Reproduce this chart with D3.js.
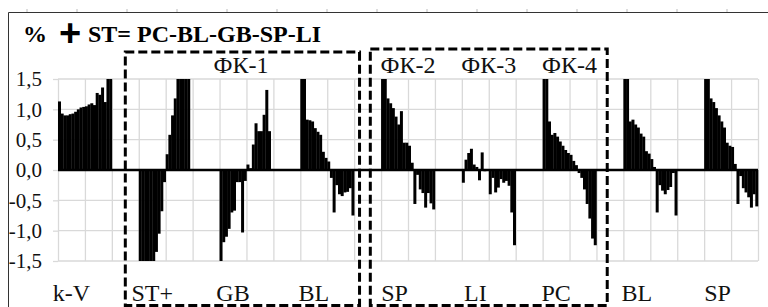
<!DOCTYPE html>
<html>
<head>
<meta charset="utf-8">
<script src="https://cdn.jsdelivr.net/npm/d3@7"></script>
<style>
  body { margin: 0; background: #fff; }
</style>
</head>
<body>
<div id="chart"></div>
<script>
// group labels under the x axis and the bars of each group
var groupLabels = ["k-V", "ST+", "GB", "BL", "SP", "LI", "PC", "BL", "SP"];

var kV = [1.13, 0.93, 0.90, 0.90, 0.92, 0.93, 0.96, 1.00, 1.03, 1.04, 1.05, 1.08, 1.10, 1.07, 1.27, 1.24, 1.36, 1.12, 1.6, 1.6];
var stPlus = [-1.6, -1.6, -1.6, -1.6, -1.6, -1.6, -1.35, -1.05, -0.68, -0.2, 0.26, 0.58, 0.9, 1.18, 1.6, 1.6, 1.6, 1.6, 1.6];
var gb = [-1.5, -1.19, -1.1, -0.97, -0.7, -0.67, -0.2, -0.2, -1.03, -0.18, 0.09, 0.03, 0.42, 0.77, 0.64, 0.64, 0.91, 1.32, 0.64];
var bl = [1.6, 1.6, 0.83, 0.82, 0.80, 0.69, 0.63, 0.58, 0.30, 0.20, 0.14, -0.13, -0.70, -0.25, -0.40, -0.43, -0.37, -0.36, -0.30, -0.75];
var sp = [1.6, 1.6, 1.18, 1.10, 1.02, 0.88, 0.75, 0.97, 0.45, 0.45, 0.40, 0.12, -0.56, -0.08, -0.32, -0.38, -0.62, -0.38, -0.55, -0.65];
var li = [-0.21, 0.17, 0.28, 0.35, 0.09, 0.05, -0.17, 0.29, -0.02, 0, -0.40, -0.13, -0.37, -0.29, -0.15, -0.21, -0.18, -0.26, -0.70, -1.24];
var pc = [1.6, 1.6, 0.80, 0.58, 0.61, 0.55, 0.47, 0.40, 0.33, 0.28, 0.25, 0.15, 0.08, -0.05, -0.13, -0.32, -0.56, -0.80, -1.13, -1.24];
var bl2 = [1.6, 1.6, 0.80, 0.83, 0.75, 0.70, 0.60, 0.55, 0.31, 0.27, 0.18, 0.05, -0.70, -0.25, -0.34, -0.40, -0.33, -0.28, -0.05, -0.75];
var sp2 = [1.6, 1.6, 1.18, 1.12, 1.02, 0.90, 0.80, 0.70, 0.45, 0.40, 0.38, 0.10, -0.56, -0.10, -0.30, -0.37, -0.45, -0.62, -0.40, -0.60];

var groups = [kV, stPlus, gb, bl, sp, li, pc, bl2, sp2];
var yTicks = [-1.5, -1.0, -0.5, 0, 0.5, 1.0, 1.5];

// annotation boxes: [first slot, last slot] and their labels
var boxSlots = [[25, 112], [116, 204]];
var fkLabels = ["ФК-1", "ФК-2", "ФК-3", "ФК-4"];
var fkSlots = [68, 130, 160, 190];

var serif = "'Liberation Serif'";

var svgWidth = 768;
var svgHeight = 307;
var slotsPerGroup = 30;
var totalSlots = 260;

var svg = d3.select("#chart")
  .append("svg")
  .attr("width", svgWidth)
  .attr("height", svgHeight);

var margin = { top: 79, right: 10, bottom: 46, left: 58 };
var width = svgWidth - margin.left - margin.right;
var height = svgHeight - margin.top - margin.bottom;

var xBand = d3.scaleBand()
  .domain(d3.range(totalSlots))
  .range([margin.left, margin.left + width])
  .padding(0);

var xLin = d3.scaleLinear()
  .domain([0, totalSlots])
  .range([margin.left, margin.left + width]);

var yScale = d3.scaleLinear()
  .domain([-1.5, 1.5])
  .range([margin.top + height, margin.top])
  .clamp(true);

// outer frame (runs off the right / bottom edge)
svg.append("path")
  .attr("d", `M8.5,${svgHeight + 5} V12.5 H${svgWidth + 5}`)
  .attr("fill", "none")
  .attr("stroke", "#333")
  .attr("stroke-width", 1);

// faint ruler marks on the frame
svg.selectAll(".ruler")
  .data(d3.range(27, svgWidth, 50))
  .enter()
  .append("line")
  .attr("x1", d => d).attr("x2", d => d)
  .attr("y1", 9).attr("y2", 12)
  .attr("stroke", "#bbb");

// vertical grid
svg.append("g")
  .attr("transform", `translate(0, ${margin.top + height})`)
  .call(d3.axisBottom(xLin).tickValues(d3.range(0, totalSlots + 1, 10)).tickSize(-height).tickFormat(""))
  .call(g => g.select(".domain").remove())
  .call(g => g.selectAll("line").attr("stroke", "#d9d9d9").attr("stroke-width", 1.3));

// horizontal grid + y labels
var fmt = d3.formatLocale({ decimal: ",", thousands: " ", grouping: [3], currency: ["", ""], minus: "-" }).format(".1f");

var yAxis = svg.append("g")
  .attr("transform", `translate(${margin.left}, 0)`)
  .call(d3.axisLeft(yScale).tickValues(yTicks).tickSize(5).tickPadding(11).tickFormat(fmt));
yAxis.attr("font-family", null).attr("font-size", null);
yAxis.select(".domain").remove();
yAxis.selectAll("line").attr("stroke", "#d9d9d9").attr("stroke-width", 1.3);
yAxis.selectAll("text")
  .style("font-family", serif)
  .style("font-size", "21px")
  .attr("fill", "#111");

svg.append("g")
  .selectAll("line")
  .data(yTicks)
  .enter()
  .append("line")
  .attr("x1", margin.left)
  .attr("x2", margin.left + width)
  .attr("y1", d => yScale(d))
  .attr("y2", d => yScale(d))
  .attr("stroke", "#d9d9d9")
  .attr("stroke-width", 1.3);

// flatten bars to slots
var barData = [];
groups.forEach(function(vals, g) {
  vals.forEach(function(v, i) {
    barData.push({ slot: g * slotsPerGroup + i, value: v });
  });
});

svg.append("g")
  .selectAll("rect")
  .data(barData)
  .enter()
  .append("rect")
  .attr("x", d => xBand(d.slot))
  .attr("width", xBand.bandwidth() + 0.3)
  .attr("y", d => yScale(Math.max(0, d.value)))
  .attr("height", d => Math.abs(yScale(d.value) - yScale(0)))
  .attr("fill", "#000");

// zero line
svg.append("line")
  .attr("x1", margin.left)
  .attr("x2", margin.left + width)
  .attr("y1", yScale(0))
  .attr("y2", yScale(0))
  .attr("stroke", "#000")
  .attr("stroke-width", 2.5);

// group labels
svg.append("g")
  .selectAll("text")
  .data(groupLabels)
  .enter()
  .append("text")
  .attr("x", (d, i) => xLin(i * slotsPerGroup + 5))
  .attr("y", 301)
  .attr("text-anchor", "middle")
  .style("font-family", serif)
  .style("font-size", "24px")
  .attr("fill", "#111")
  .text(d => d);

// dashed boxes
var boxTops = [52, 49];
svg.append("g")
  .selectAll("rect")
  .data(boxSlots)
  .enter()
  .append("rect")
  .attr("x", d => xLin(d[0]))
  .attr("y", (d, i) => boxTops[i])
  .attr("width", d => xLin(d[1]) - xLin(d[0]))
  .attr("height", (d, i) => 305.5 - boxTops[i])
  .attr("fill", "none")
  .attr("stroke", "#000")
  .attr("stroke-width", 3)
  .attr("stroke-dasharray", "9,4");

svg.append("g")
  .selectAll("text")
  .data(fkLabels)
  .enter()
  .append("text")
  .attr("x", (d, i) => xLin(fkSlots[i]))
  .attr("y", 73)
  .attr("text-anchor", "middle")
  .style("font-family", serif)
  .style("font-size", "24px")
  .attr("fill", "#111")
  .text(d => d);

// title
svg.append("text")
  .attr("x", 23)
  .attr("y", 42)
  .style("font-family", serif)
  .style("font-size", "24px")
  .style("font-weight", "bold")
  .text("%");

svg.append("text")
  .attr("x", 59)
  .attr("y", 46)
  .style("font-family", "'Liberation Sans'")
  .style("font-size", "38px")
  .style("font-weight", "bold")
  .text("+");

svg.append("text")
  .attr("x", 88)
  .attr("y", 42)
  .style("font-family", serif)
  .style("font-size", "24px")
  .style("font-weight", "bold")
  .text("ST= PC-BL-GB-SP-LI");
</script>
</body>
</html>
